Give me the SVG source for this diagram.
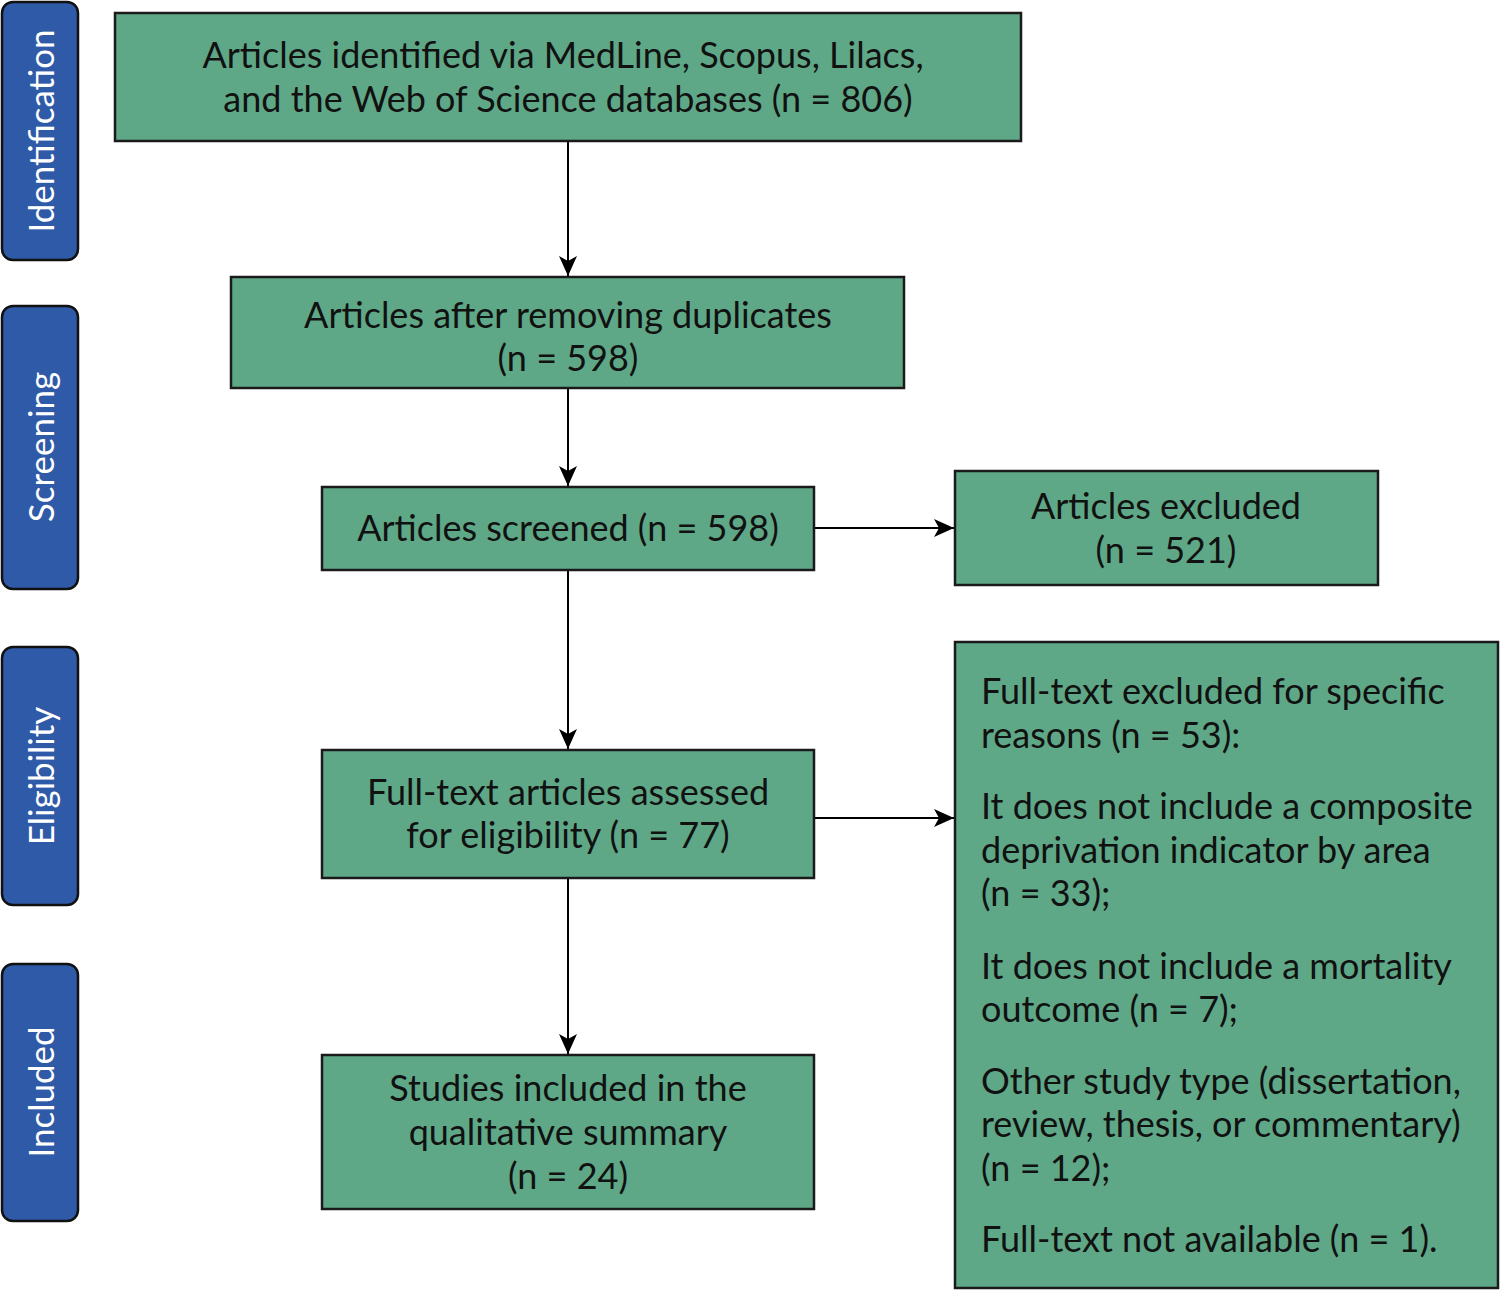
<svg xmlns="http://www.w3.org/2000/svg" width="1500" height="1290" viewBox="0 0 1500 1290">
<style>
.box{fill:#5fa887;stroke:#1a1a1a;stroke-width:2.5}
.side{fill:#2f5aa8;stroke:#111;stroke-width:2.5}
.t{font-family:Lato,"Noto Sans",sans-serif;font-size:36px;fill:#111;text-anchor:middle;dominant-baseline:central}
.l{font-family:Lato,"Noto Sans",sans-serif;font-size:36px;fill:#111;dominant-baseline:central}
.s{font-family:Lato,"Noto Sans",sans-serif;font-size:35px;fill:#fff;text-anchor:middle;dominant-baseline:central}
.c{stroke:#000;stroke-width:2;fill:none;marker-end:url(#ah)}
</style>
<defs>
<marker id="ah" markerWidth="22" markerHeight="18" refX="20" refY="9" orient="auto" markerUnits="userSpaceOnUse">
<path d="M0,0 L20,9 L0,18 L5,9 Z" fill="#000"/>
</marker>
</defs>
<rect width="1500" height="1290" fill="#fff"/>
<g id="side-identification"><rect class="side" x="2" y="2" width="76" height="258" rx="11"/><text class="s" transform="translate(40,131) rotate(-90)">Identification</text></g>
<g id="side-screening"><rect class="side" x="2" y="306" width="76" height="283" rx="11"/><text class="s" transform="translate(40,447) rotate(-90)">Screening</text></g>
<g id="side-eligibility"><rect class="side" x="2" y="647" width="76" height="258" rx="11"/><text class="s" transform="translate(40,776) rotate(-90)">Eligibility</text></g>
<g id="side-included"><rect class="side" x="2" y="964" width="76" height="257" rx="11"/><text class="s" transform="translate(40,1092) rotate(-90)">Included</text></g>

<g id="connectors">
<line class="c" x1="568" y1="141" x2="568" y2="276"/>
<line class="c" x1="568" y1="388" x2="568" y2="486"/>
<line class="c" x1="568" y1="570" x2="568" y2="749"/>
<line class="c" x1="568" y1="878" x2="568" y2="1054"/>
<line class="c" x1="814" y1="528" x2="954" y2="528"/>
<line class="c" x1="814" y1="818" x2="954" y2="818"/>
</g>

<g id="identified"><rect class="box" x="115" y="13" width="906" height="128"/>
<text class="t" x="563" y="54">Articles identified via MedLine, Scopus, Lilacs,</text>
<text class="t" x="568" y="98">and the Web of Science databases (n = 806)</text></g>
<g id="after-duplicates"><rect class="box" x="231" y="277" width="673" height="111"/>
<text class="t" x="568" y="314">Articles after removing duplicates</text>
<text class="t" x="568" y="357">(n = 598)</text></g>
<g id="screened"><rect class="box" x="322" y="487" width="492" height="83"/>
<text class="t" x="568" y="527">Articles screened (n = 598)</text></g>
<g id="excluded"><rect class="box" x="955" y="471" width="423" height="114"/>
<text class="t" x="1166" y="505">Articles excluded</text>
<text class="t" x="1166" y="549">(n = 521)</text></g>
<g id="full-text"><rect class="box" x="322" y="750" width="492" height="128"/>
<text class="t" x="568" y="791">Full-text articles assessed</text>
<text class="t" x="568" y="834">for eligibility (n = 77)</text></g>
<g id="included"><rect class="box" x="322" y="1055" width="492" height="154"/>
<text class="t" x="568" y="1087">Studies included in the</text>
<text class="t" x="568" y="1131">qualitative summary</text>
<text class="t" x="568" y="1175">(n = 24)</text></g>
<g id="reasons"><rect class="box" x="955" y="642" width="543" height="646"/>
<text class="l" x="981" y="690">Full-text excluded for specific</text>
<text class="l" x="981" y="734">reasons (n = 53):</text>
<text class="l" x="981" y="805">It does not include a composite</text>
<text class="l" x="981" y="849">deprivation indicator by area</text>
<text class="l" x="981" y="892">(n = 33);</text>
<text class="l" x="981" y="965">It does not include a mortality</text>
<text class="l" x="981" y="1008">outcome (n = 7);</text>
<text class="l" x="981" y="1080">Other study type (dissertation,</text>
<text class="l" x="981" y="1123">review, thesis, or commentary)</text>
<text class="l" x="981" y="1167">(n = 12);</text>
<text class="l" x="981" y="1238">Full-text not available (n = 1).</text></g>
</svg>
